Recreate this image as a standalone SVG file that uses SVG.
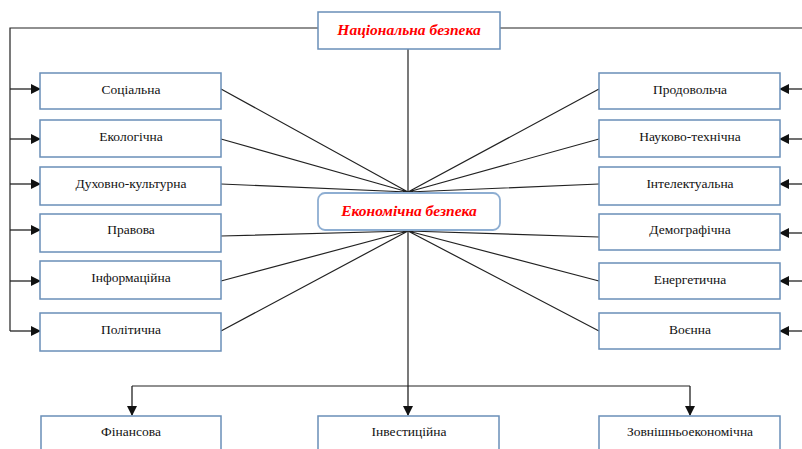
<svg xmlns="http://www.w3.org/2000/svg" width="802" height="449" viewBox="0 0 802 449">
<style>
.box{fill:#fff;stroke:#6a8fb8;stroke-width:1.5}
.rbox{fill:#fff;stroke:#8eaed2;stroke-width:1.8}
.lbl{font-family:"Liberation Serif","DejaVu Serif",serif;font-size:13.5px;fill:#111;text-anchor:middle}
.ttl{font-family:"Liberation Serif","DejaVu Serif",serif;font-size:15.5px;font-weight:bold;font-style:italic;fill:#ff0000;text-anchor:middle}
.ln{stroke:#222;stroke-width:1.2;fill:none}
.ar{stroke:#222;stroke-width:1.3;fill:none;marker-end:url(#ah)}
</style>
<defs>
<marker id="ah" markerWidth="10" markerHeight="10" refX="9" refY="5" orient="auto" markerUnits="userSpaceOnUse">
<path d="M0,0 L10,5 L0,10 Z" fill="#111"/>
</marker>
</defs>
<rect width="802" height="449" fill="#fff"/>
<g id="connectors">
<path class="ln" d="M318,28 H10 V331 M500,28 H802 M408,49 V193 M408,230 V386 M132,386 H690"/>
<path class="ar" d="M10,89 H40"/>
<path class="ar" d="M10,139 H40"/>
<path class="ar" d="M10,184 H40"/>
<path class="ar" d="M10,230 H40"/>
<path class="ar" d="M10,281 H40"/>
<path class="ar" d="M10,331 H40"/>
<path class="ar" d="M802,89 H780"/>
<path class="ar" d="M802,139 H780"/>
<path class="ar" d="M802,184 H780"/>
<path class="ar" d="M802,233 H780"/>
<path class="ar" d="M802,281 H780"/>
<path class="ar" d="M802,331 H780"/>
<path class="ar" d="M132,386 V415"/>
<path class="ar" d="M408,386 V415"/>
<path class="ar" d="M690,386 V415"/>
<path class="ln" d="M221,89 L408,192 M221,139 L408,192 M221,184 L408,192 M221,236 L408,231 M221,281 L408,231 M221,331 L408,231"/>
<path class="ln" d="M599,89 L408,192 M599,139 L408,192 M599,184 L408,192 M599,237 L408,231 M599,281 L408,231 M599,331 L408,231"/>
</g>
<g id="nat"><rect class="box" x="318" y="12" width="182" height="37"/><text class="ttl" x="409" y="35">Національна безпека</text></g>
<g id="econ"><rect class="rbox" x="318" y="193" width="182" height="37" rx="7"/><text class="ttl" x="409" y="216">Економічна безпека</text></g>
<g id="soc"><rect class="box" x="40" y="73" width="181" height="36"/><text class="lbl" x="131" y="94">Соціальна</text></g>
<g id="eco"><rect class="box" x="40" y="120" width="181" height="37"/><text class="lbl" x="131" y="141">Екологічна</text></g>
<g id="duh"><rect class="box" x="40" y="167" width="181" height="38"/><text class="lbl" x="131" y="188">Духовно-культурна</text></g>
<g id="prav"><rect class="box" x="40" y="214" width="181" height="38"/><text class="lbl" x="131" y="234">Правова</text></g>
<g id="inf"><rect class="box" x="40" y="261" width="181" height="38"/><text class="lbl" x="131" y="282">Інформаційна</text></g>
<g id="pol"><rect class="box" x="40" y="313" width="181" height="38"/><text class="lbl" x="131" y="334">Політична</text></g>
<g id="prod"><rect class="box" x="599" y="73" width="181" height="36"/><text class="lbl" x="690" y="94">Продовольча</text></g>
<g id="nauk"><rect class="box" x="599" y="120" width="181" height="37"/><text class="lbl" x="690" y="141">Науково-технічна</text></g>
<g id="int"><rect class="box" x="599" y="167" width="181" height="38"/><text class="lbl" x="690" y="188">Інтелектуальна</text></g>
<g id="dem"><rect class="box" x="599" y="214" width="181" height="36"/><text class="lbl" x="690" y="234">Демографічна</text></g>
<g id="ener"><rect class="box" x="599" y="263" width="181" height="36"/><text class="lbl" x="690" y="284">Енергетична</text></g>
<g id="voen"><rect class="box" x="599" y="313" width="181" height="36"/><text class="lbl" x="690" y="334">Воєнна</text></g>
<g id="fin"><rect class="box" x="41" y="416" width="180" height="40"/><text class="lbl" x="131" y="436">Фінансова</text></g>
<g id="inv"><rect class="box" x="318" y="416" width="181" height="40"/><text class="lbl" x="409" y="436">Інвестиційна</text></g>
<g id="zovn"><rect class="box" x="599" y="416" width="181" height="40"/><text class="lbl" x="690" y="436">Зовнішньоекономічна</text></g>
</svg>
